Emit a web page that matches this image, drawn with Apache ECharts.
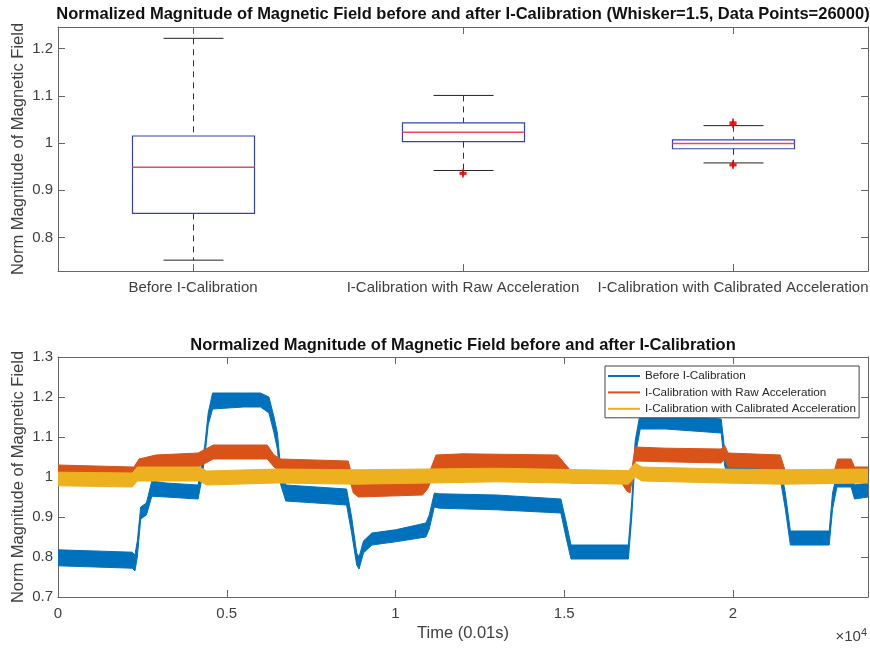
<!DOCTYPE html>
<html>
<head>
<meta charset="utf-8">
<script src="https://cdn.jsdelivr.net/npm/echarts@6/dist/echarts.min.js"></script>
<style>html,body{margin:0;padding:0;background:#fff}#chart{width:870px;height:648px}</style>
</head>
<body>
<div id="chart"></div>
<script>
// ---------- Top: box plot summary ----------
const boxCategories = ['Before I-Calibration', 'I-Calibration with Raw Acceleration', 'I-Calibration with Calibrated Acceleration'];
const boxLower  = [0.752, 0.942, 0.958];
const boxQ1     = [0.851, 1.003, 0.988];
const boxMedian = [0.949, 1.023, 0.999];
const boxQ3     = [1.015, 1.043, 1.007];
const boxUpper  = [1.222, 1.101, 1.037];
const outlierCat = [1, 1, 1, 2, 2, 2, 2, 2, 2, 2];
const outlierVal = [0.934, 0.936, 0.938, 1.039, 1.041, 1.043, 1.045, 0.952, 0.954, 0.956];

// ---------- Bottom: time series (envelopes of the noisy traces) ----------
const seriesNames = ['Before I-Calibration', 'I-Calibration with Raw Acceleration', 'I-Calibration with Calibrated Acceleration'];
const blueX  = [0,2200,2280,2350,2450,2620,2780,3200,4150,4250,4350,4450,4580,5500,6000,6250,6400,6500,6600,6750,8550,8700,8850,8920,9050,9300,10000,10900,11000,11150,11300,13000,14900,15050,15200,16900,17000,17100,17250,18000,19650,19750,19850,21400,21550,21700,22850,22950,23080,23500,23600,24000];
const blueLo = [0.778,0.772,0.765,0.80,0.895,0.905,0.952,0.95,0.945,0.99,1.05,1.13,1.17,1.175,1.175,1.16,1.11,1.07,0.98,0.94,0.93,0.86,0.78,0.77,0.81,0.83,0.838,0.85,0.87,0.925,0.922,0.918,0.91,0.85,0.795,0.795,0.9,1.05,1.12,1.12,1.11,1.03,1.0,0.995,0.92,0.83,0.83,0.92,0.975,0.975,0.945,0.95];
const blueHi = [0.818,0.812,0.805,0.84,0.925,0.935,0.99,0.985,0.98,1.03,1.08,1.16,1.21,1.21,1.21,1.20,1.15,1.11,1.02,0.98,0.97,0.9,0.81,0.80,0.84,0.86,0.868,0.885,0.905,0.96,0.958,0.955,0.945,0.89,0.83,0.83,0.94,1.09,1.16,1.155,1.145,1.07,1.035,1.03,0.96,0.865,0.865,0.96,1.01,1.01,0.98,0.985];
const orangeX  = [0,2250,2400,2900,4150,4600,6200,6400,6600,8600,8750,8900,10800,10950,11200,12000,14800,15000,15200,16700,16850,16950,17100,18000,19650,19750,19850,21400,21550,23000,23100,23500,23600,24000];
const orangeLo = [0.995,0.99,1.01,1.02,1.025,1.045,1.045,1.025,1.012,1.008,0.96,0.95,0.955,0.97,1.02,1.02,1.02,1.0,0.985,0.985,0.965,0.96,1.04,1.038,1.035,1.045,1.025,1.02,0.985,0.985,1.01,1.01,0.99,0.99];
const orangeHi = [1.03,1.025,1.045,1.055,1.06,1.08,1.08,1.055,1.045,1.04,0.99,0.985,0.99,1.0,1.055,1.058,1.055,1.035,1.015,1.015,0.995,0.99,1.075,1.072,1.07,1.08,1.06,1.055,1.015,1.015,1.045,1.045,1.025,1.025];
const yellowX  = [0,2200,2350,4200,4400,6500,8800,11000,13000,16900,17100,17300,19700,21500,24000];
const yellowLo = [0.978,0.975,0.99,0.99,0.98,0.985,0.982,0.985,0.988,0.982,1.0,0.99,0.985,0.982,0.985];
const yellowHi = [1.012,1.01,1.025,1.025,1.015,1.02,1.018,1.02,1.022,1.016,1.035,1.025,1.02,1.018,1.02];
const yTicksTop = [0.8, 0.9, 1.0, 1.1, 1.2];

const FONT = '"Liberation Sans", Arial, Helvetica, sans-serif';
const AXIS_COLOR = '#666666';
const LABEL_COLOR = '#404040';
const COLORS = ['#0072BD', '#D95319', '#EDB120'];

const chart = echarts.init(document.getElementById('chart'), null, {renderer: 'canvas'});

function boxItem(params, api) {
  const c = api.value(0);
  const lo = api.value(1), q1 = api.value(2), med = api.value(3), q3 = api.value(4), hi = api.value(5);
  const band = api.size([1, 0])[0];
  const bw = band * 0.452, cw = band * 0.222;
  const pLo = api.coord([c, lo]), pQ1 = api.coord([c, q1]), pMed = api.coord([c, med]), pQ3 = api.coord([c, q3]), pHi = api.coord([c, hi]);
  const x = Math.round(pQ1[0]) + 0.5;
  const dash = {stroke: '#333', lineWidth: 1, lineDash: [6, 5]};
  const solid = {stroke: '#222', lineWidth: 1};
  return {
    type: 'group',
    children: [
      {type: 'line', shape: {x1: x, y1: pHi[1], x2: x, y2: pQ3[1]}, style: dash},
      {type: 'line', shape: {x1: x, y1: pQ1[1], x2: x, y2: pLo[1]}, style: dash},
      {type: 'line', shape: {x1: x - cw / 2, y1: pHi[1], x2: x + cw / 2, y2: pHi[1]}, style: solid},
      {type: 'line', shape: {x1: x - cw / 2, y1: pLo[1], x2: x + cw / 2, y2: pLo[1]}, style: solid},
      {type: 'rect', shape: {x: x - bw / 2, y: pQ3[1], width: bw, height: pQ1[1] - pQ3[1]}, style: {fill: 'none', stroke: '#3443b0', lineWidth: 1.2}},
      {type: 'line', shape: {x1: x - bw / 2, y1: pMed[1], x2: x + bw / 2, y2: pMed[1]}, style: {stroke: '#f04858', lineWidth: 1.5}}
    ]
  };
}

function bandSeries(name, xs, los, his, color, z) {
  const data = xs.map((x, i) => [x, los[i], his[i]]);
  return {
    name: name,
    type: 'custom',
    xAxisIndex: 2, yAxisIndex: 2,
    z: z,
    clip: true,
    itemStyle: {color: color},
    encode: {x: 0, y: [1, 2]},
    data: data,
    renderItem: function (params, api) {
      if (params.dataIndex !== 0) return null;
      const upper = [], lower = [];
      for (let i = 0; i < data.length; i++) {
        upper.push(api.coord([data[i][0], data[i][2]]));
        lower.push(api.coord([data[i][0], data[i][1]]));
      }
      const pts = upper.concat(lower.reverse());
      return {type: 'polygon', shape: {points: pts}, style: {fill: color, stroke: color, lineWidth: 1}};
    }
  };
}

const tickLen = 7;
function frameAxis(extra) { return Object.assign({
  axisLine: {show: true, onZero: false, lineStyle: {color: AXIS_COLOR, width: 1}},
  axisTick: {show: true, inside: true, length: tickLen, lineStyle: {color: AXIS_COLOR}},
  splitLine: {show: false},
  nameMoveOverlap: false
}, extra); }

const option = {
  animation: false,
  backgroundColor: '#ffffff',
  textStyle: {fontFamily: FONT},
  grid: [
    {left: 58, top: 27, width: 810, height: 244, outerBoundsMode: 'none', containLabel: false},
    {left: 58, top: 357, width: 810, height: 240, outerBoundsMode: 'none', containLabel: false}
  ],
  xAxis: [
    frameAxis({type: 'category', gridIndex: 0, data: boxCategories, position: 'bottom', boundaryGap: true,
      axisTick: {show: true, inside: true, length: tickLen, alignWithLabel: true, interval: 0, lineStyle: {color: AXIS_COLOR}},
      axisLabel: {interval: 0, color: LABEL_COLOR, fontSize: 15, margin: 9, fontFamily: FONT, hideOverlap: false}}),
    frameAxis({type: 'category', gridIndex: 0, data: boxCategories, position: 'top', boundaryGap: true,
      axisTick: {show: true, inside: true, length: tickLen, alignWithLabel: true, interval: 0, lineStyle: {color: AXIS_COLOR}},
      axisLabel: {show: false}}),
    frameAxis({type: 'value', gridIndex: 1, min: 0, max: 24000, interval: 5000, position: 'bottom',
      axisLabel: {color: LABEL_COLOR, fontSize: 15, margin: 9, fontFamily: FONT, showMaxLabel: false,
        formatter: v => String(v / 10000)},
      name: 'Time (0.01s)', nameLocation: 'middle', nameGap: 28,
      nameTextStyle: {color: LABEL_COLOR, fontSize: 16.5, fontFamily: FONT}}),
    frameAxis({type: 'value', gridIndex: 1, min: 0, max: 24000, interval: 5000, position: 'top', axisLabel: {show: false}})
  ],
  yAxis: [
    frameAxis({type: 'value', gridIndex: 0, min: 0.729, max: 1.246, splitNumber: 5, position: 'left',
      axisLabel: {color: LABEL_COLOR, fontSize: 15, margin: 5, fontFamily: FONT, showMinLabel: false, showMaxLabel: false,
        formatter: v => (yTicksTop.some(t => Math.abs(t - v) < 1e-6) ? String(+v.toFixed(1)) : '')},
      name: 'Norm Magnitude of Magnetic Field', nameLocation: 'middle', nameGap: 31,
      nameTextStyle: {color: LABEL_COLOR, fontSize: 16.5, fontFamily: FONT}}),
    frameAxis({type: 'value', gridIndex: 0, min: 0.729, max: 1.246, splitNumber: 5, position: 'right', axisLabel: {show: false}}),
    frameAxis({type: 'value', gridIndex: 1, min: 0.7, max: 1.3, interval: 0.1, position: 'left',
      axisLabel: {color: LABEL_COLOR, fontSize: 15, margin: 5, fontFamily: FONT, formatter: v => String(+v.toFixed(1))},
      name: 'Norm Magnitude of Magnetic Field', nameLocation: 'middle', nameGap: 31,
      nameTextStyle: {color: LABEL_COLOR, fontSize: 16.5, fontFamily: FONT}}),
    frameAxis({type: 'value', gridIndex: 1, min: 0.7, max: 1.3, interval: 0.1, position: 'right', axisLabel: {show: false}})
  ],
  legend: {
    left: 605, top: 366,
    orient: 'vertical',
    data: seriesNames.map(n => ({name: n, icon: 'rect'})),
    itemWidth: 32, itemHeight: 2, itemGap: 4.4,
    padding: [4, 3, 3, 3],
    backgroundColor: '#ffffff',
    borderColor: '#444', borderWidth: 1, borderRadius: 0,
    textStyle: {color: '#262626', fontSize: 11.7, fontFamily: FONT, lineHeight: 12},
    selectedMode: false
  },
  graphic: [
    {type: 'text', x: 463, y: 14, z: 10, style: {text: 'Normalized Magnitude of Magnetic Field before and after I-Calibration (Whisker=1.5, Data Points=26000)',
      fill: '#111', font: 'bold 16.5px ' + FONT, align: 'center', verticalAlign: 'middle'}},
    {type: 'text', x: 463, y: 345, z: 10, style: {text: 'Normalized Magnitude of Magnetic Field before and after I-Calibration',
      fill: '#111', font: 'bold 16.5px ' + FONT, align: 'center', verticalAlign: 'middle'}},
    {type: 'text', x: 867, y: 637, z: 10, style: {text: '{a|×10}{b|4}', align: 'right', verticalAlign: 'middle',
      rich: {a: {fontSize: 15, fill: LABEL_COLOR, fontFamily: FONT}, b: {fontSize: 11, fill: LABEL_COLOR, fontFamily: FONT, verticalAlign: 'bottom', padding: [0, 0, 8, 0]}}}}
  ],
  series: [
    {
      name: 'boxes', type: 'custom', xAxisIndex: 0, yAxisIndex: 0, z: 3,
      encode: {x: 0, y: [1, 2, 3, 4, 5]},
      data: boxCategories.map((c, i) => [i, boxLower[i], boxQ1[i], boxMedian[i], boxQ3[i], boxUpper[i]]),
      renderItem: boxItem
    },
    {
      name: 'outliers', type: 'scatter', xAxisIndex: 0, yAxisIndex: 0, z: 4,
      symbol: 'path://M4,0 L6,0 L6,4 L10,4 L10,6 L6,6 L6,10 L4,10 L4,6 L0,6 L0,4 L4,4 Z',
      symbolSize: 7,
      itemStyle: {color: '#ee0000'},
      data: outlierCat.map((c, i) => [c, outlierVal[i]])
    },
    bandSeries(seriesNames[0], blueX, blueLo, blueHi, COLORS[0], 2),
    bandSeries(seriesNames[1], orangeX, orangeLo, orangeHi, COLORS[1], 3),
    bandSeries(seriesNames[2], yellowX, yellowLo, yellowHi, COLORS[2], 4)
  ]
};
chart.setOption(option);
</script>
</body>
</html>
